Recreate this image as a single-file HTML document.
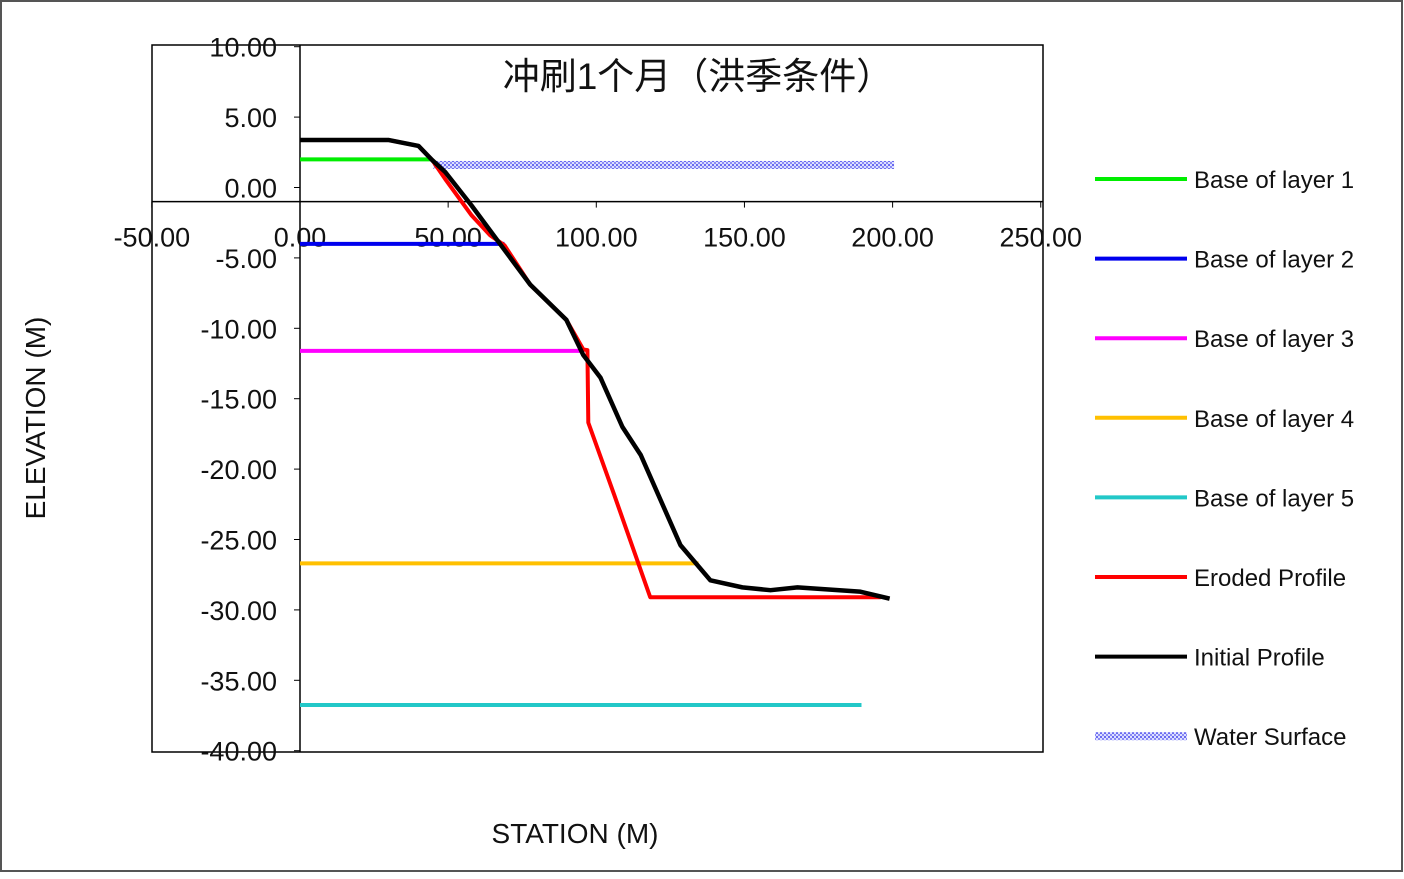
<!DOCTYPE html>
<html><head><meta charset="utf-8"><style>
body{margin:0;background:#fff}
svg text{font-family:"Liberation Sans","Noto Sans CJK SC",sans-serif;fill:#111}
</style></head><body>
<svg width="1404" height="874" viewBox="0 0 1404 874" xmlns="http://www.w3.org/2000/svg">
<defs>
<pattern id="dots" width="4" height="4" patternUnits="userSpaceOnUse">
<rect width="4" height="4" fill="#dde0ff"/><rect width="2" height="2" fill="#6a6af0"/><rect x="2" y="2" width="2" height="2" fill="#8a8af5"/>
</pattern>
</defs>
<rect x="1" y="1" width="1401" height="870" fill="#fff" stroke="#555" stroke-width="2"/>
<rect x="152" y="45" width="891" height="707" fill="#fff" stroke="#000" stroke-width="1.5"/>
<g id="axes"></g>
<g id="series"></g>
<text x="698" y="89" font-size="37" text-anchor="middle">冲刷1个月（洪季条件）</text>
<text x="575" y="843" font-size="28" text-anchor="middle">STATION (M)</text>
<text transform="translate(45,418) rotate(-90)" font-size="28" text-anchor="middle">ELEVATION (M)</text>
<g id="legend"></g>
</svg>
<script>
const xTicks=[-50,0,50,100,150,200,250];
const yTicks=[10,5,0,-5,-10,-15,-20,-25,-30,-35,-40];
const layerNames=["Base of layer 1","Base of layer 2","Base of layer 3","Base of layer 4","Base of layer 5"];
const layerColors=["#00ee00","#0000ee","#ff00ff","#ffc000","#22c8c8"];
const layerElev=[2.0,-4.0,-11.6,-26.7,-36.75];
const layerEnd=[44,69,96,134.5,189.5];
const initX=[0,30,40,44.6,49,57.8,77.7,89.9,95.6,101.4,108.8,115,128.4,138.5,149.3,158.8,167.9,188.9,199];
const initY=[3.37,3.37,2.95,1.95,1.1,-1.25,-6.9,-9.4,-11.9,-13.5,-17,-19,-25.4,-27.9,-28.4,-28.6,-28.4,-28.7,-29.2];
const erodX=[0,30,40,44.6,49,57.8,64.2,69,77.7,89.9,95.6,97,97.3,106,118.2,196];
const erodY=[3.37,3.37,2.95,1.95,0.6,-1.95,-3.4,-4.1,-6.9,-9.4,-11.5,-11.55,-16.7,-21.8,-29.1,-29.1];
const waterX=[45,200.5];
const waterY=[1.6,1.6];
const xCross=-1;
const sx=v=>300+(v)*2.963;
const sy=v=>187.5-(v)*14.08;
const NS="http://www.w3.org/2000/svg";
function mk(tag,attrs,parent){const e=document.createElementNS(NS,tag);for(const k in attrs)e.setAttribute(k,attrs[k]);parent.appendChild(e);return e;}
const ax=document.getElementById('axes');
let l=mk('line',{x1:sx(0),x2:sx(0),y1:45,y2:752,stroke:'#000','stroke-width':1.5},ax);


l=mk('line',{x1:152,x2:1043,y1:sy(xCross),y2:sy(xCross),stroke:'#000','stroke-width':1.5},ax);


yTicks.forEach(v=>{
 mk('line',{x1:sx(0)-6,x2:sx(0),y1:sy(v),y2:sy(v),stroke:'#000'},ax);
 const t=mk('text',{x:sx(0)-23,y:sy(v)+10,'font-size':27,'text-anchor':'end'},ax);
 t.textContent=v.toFixed(2);
 
 
});
xTicks.forEach(v=>{
 mk('line',{x1:sx(v),x2:sx(v),y1:sy(xCross),y2:sy(xCross)+6,stroke:'#000'},ax);
 const t=mk('text',{x:sx(v),y:sy(xCross)+45,'font-size':27,'text-anchor':'middle'},ax);
 t.textContent=v.toFixed(2);
 
 
});
const se=document.getElementById('series');
layerElev.forEach((e,i)=>{
 const p=mk('line',{x1:sx(0),x2:sx(layerEnd[i]),y1:sy(e),y2:sy(e),stroke:layerColors[i],'stroke-width':4},se);
 
 
});
const w=mk('rect',{x:sx(waterX[0]),y:sy(waterY[0])-4,width:sx(waterX[1])-sx(waterX[0]),height:8,fill:'url(#dots)'},se);


const pts=(X,Y)=>X.map((x,i)=>sx(x)+','+sy(Y[i])).join(' ');
let pl=mk('polyline',{points:pts(erodX,erodY),fill:'none',stroke:'#ff0000','stroke-width':4,'stroke-linejoin':'round'},se);


pl=mk('polyline',{points:pts(initX,initY),fill:'none',stroke:'#000','stroke-width':4.5,'stroke-linejoin':'round'},se);


const lg=document.getElementById('legend');
const names=layerNames.concat(["Eroded Profile","Initial Profile","Water Surface"]);
const cols=layerColors.concat(["#ff0000","#000000","dots"]);
names.forEach((n,i)=>{
 const y=179+i*79.6;
 const g=mk('g',{},lg);
 
 
 if(cols[i]==='dots') mk('rect',{x:1095,y:y-4,width:92,height:8,fill:'url(#dots)'},g);
 else mk('line',{x1:1095,x2:1187,y1:y,y2:y,stroke:cols[i],'stroke-width':4},g);
 const t=mk('text',{x:1194,y:y+9,'font-size':24},g);
 t.textContent=n;
});
</script>
</body></html>
